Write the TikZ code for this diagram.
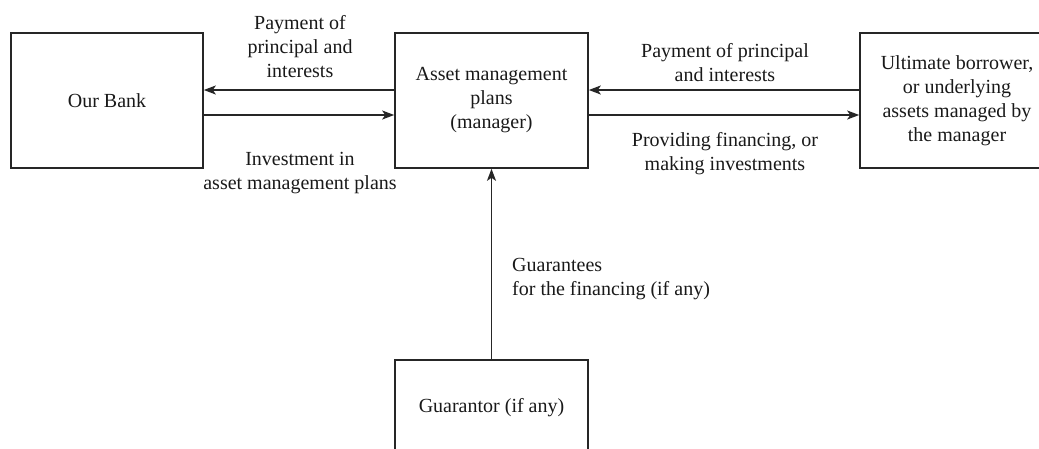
\documentclass[tikz,border=0pt]{standalone}
\usepackage{fontspec}
\setmainfont{Liberation Serif}
\usetikzlibrary{arrows.meta}
\begin{document}
\begin{tikzpicture}[x=1pt,y=-1pt,
  txt/.style={font=\fontsize{20}{24}\selectfont, text=black!90},
  party/.style={txt, draw=black!85, line width=1.6pt, rectangle, inner sep=0pt, align=center},
  flow/.style={draw=black!85, line width=1.6pt, -{Stealth[length=12pt,width=9pt,inset=3pt]}},
  note/.style={txt, align=center, inner sep=0pt}
]
\useasboundingbox (0,0) rectangle (1039,448);
\clip (0,0) rectangle (1039,448);

% parties
\node[party, minimum width=192pt, minimum height=135pt] (bank) at (107,100.5) {Our Bank};
\node[party, minimum width=193pt, minimum height=135pt] (am) at (491.5,100.5)
  {Asset management\\plans\\(manager)};
\node[party, minimum width=194pt, minimum height=135pt] (ub) at (957,100.5)
  {Ultimate borrower,\\or underlying\\assets managed by\\the manager};
\node[party, minimum width=193pt, minimum height=96pt] (guar) at (491.5,408) {Guarantor (if any)};

% flows between the parties
\draw[flow] ([yshift=10.5pt]am.west) -- ([yshift=10.5pt]bank.east);
\draw[flow] ([yshift=-14.5pt]bank.east) -- ([yshift=-14.5pt]am.west);
\draw[flow] ([yshift=10.5pt]ub.west) -- ([yshift=10.5pt]am.east);
\draw[flow] ([yshift=-14.5pt]am.east) -- ([yshift=-14.5pt]ub.west);
\draw[flow] (guar.north) -- (am.south);

% flow labels
\node[note] (lp) at (300,47) {Payment of\\principal and\\interests};
\node[note] (li) at (300,173.5) {Investment in\\asset management plans};
\node[note] (rp) at (725,63) {Payment of principal\\and interests};
\node[note] (rf) at (725,153.5) {Providing financing, or\\making investments};
\node[note, align=left, anchor=west] (gl) at (512,279) {Guarantees\\for the financing (if any)};
\end{tikzpicture}
\end{document}
